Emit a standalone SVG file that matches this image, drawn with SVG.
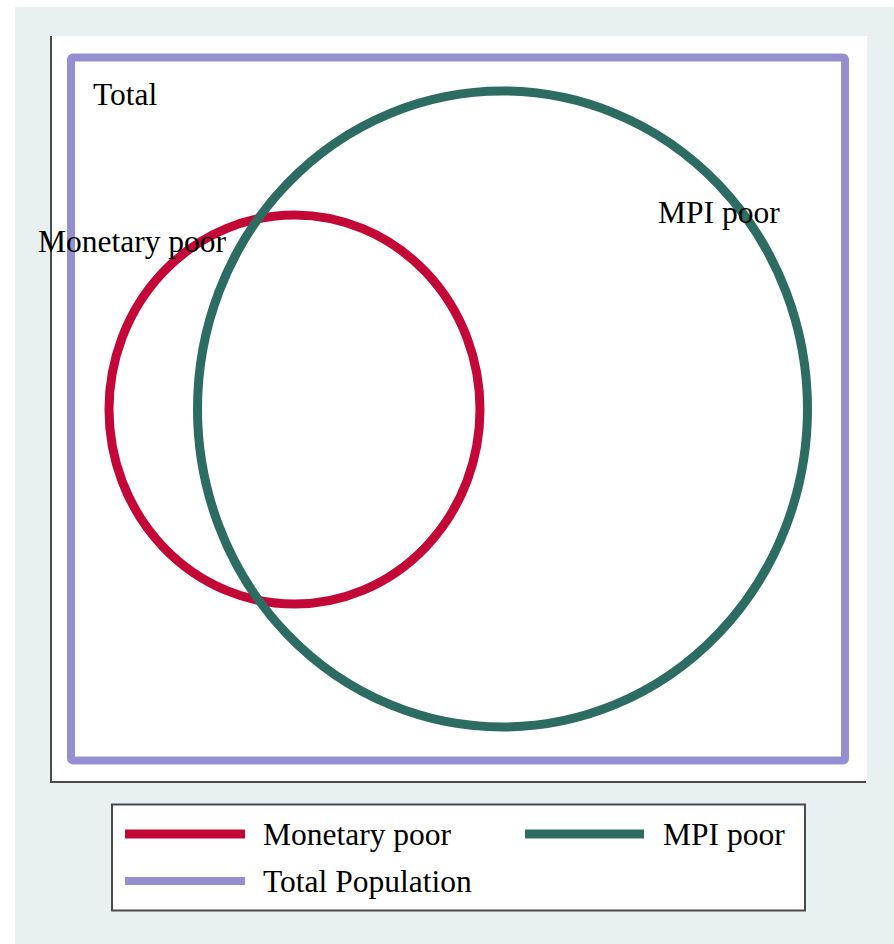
<svg xmlns="http://www.w3.org/2000/svg" width="894" height="944" viewBox="0 0 894 944">
<style>
text{font-family:"Liberation Serif","Times New Roman",serif;font-size:31.5px;fill:#000}
.red{fill:none;stroke:#c30838;stroke-width:9}
.teal{fill:none;stroke:#2d6c62;stroke-width:9}
.purp{fill:none;stroke:#958fd1;stroke-width:8}
.axis{stroke:#4a4a4a;stroke-width:2;fill:none}
</style>
<rect x="0" y="0" width="894" height="944" fill="#ffffff"/>
<rect x="15" y="7" width="879" height="937" fill="#e8f0f2"/>
<rect x="50" y="36" width="817" height="746" fill="#ffffff"/>
<path class="axis" d="M51,36 V782 H866"/>
<g id="total">
<rect class="purp" x="71" y="57.5" width="774" height="703" rx="2"/>
<text x="93" y="105">Total</text>
</g>
<g id="monetary">
<ellipse class="red" cx="294.5" cy="409.5" rx="185.5" ry="194.5"/>
<text x="38" y="252">Monetary poor</text>
</g>
<g id="mpi">
<ellipse class="teal" cx="502.5" cy="409" rx="305" ry="318"/>
<text x="658" y="223">MPI poor</text>
</g>
<g id="legend">
<rect x="112" y="804.5" width="693" height="106" fill="#ffffff" stroke="#4a4a4a" stroke-width="2"/>
<line class="red" x1="125" y1="834" x2="245" y2="834" stroke-width="8"/>
<text x="263" y="845">Monetary poor</text>
<line class="teal" x1="525" y1="834" x2="644" y2="834" stroke-width="8"/>
<text x="663" y="845">MPI poor</text>
<line class="purp" x1="125" y1="881" x2="245" y2="881"/>
<text x="263" y="892">Total Population</text>
</g>
<g id="connectors"/>
</svg>
